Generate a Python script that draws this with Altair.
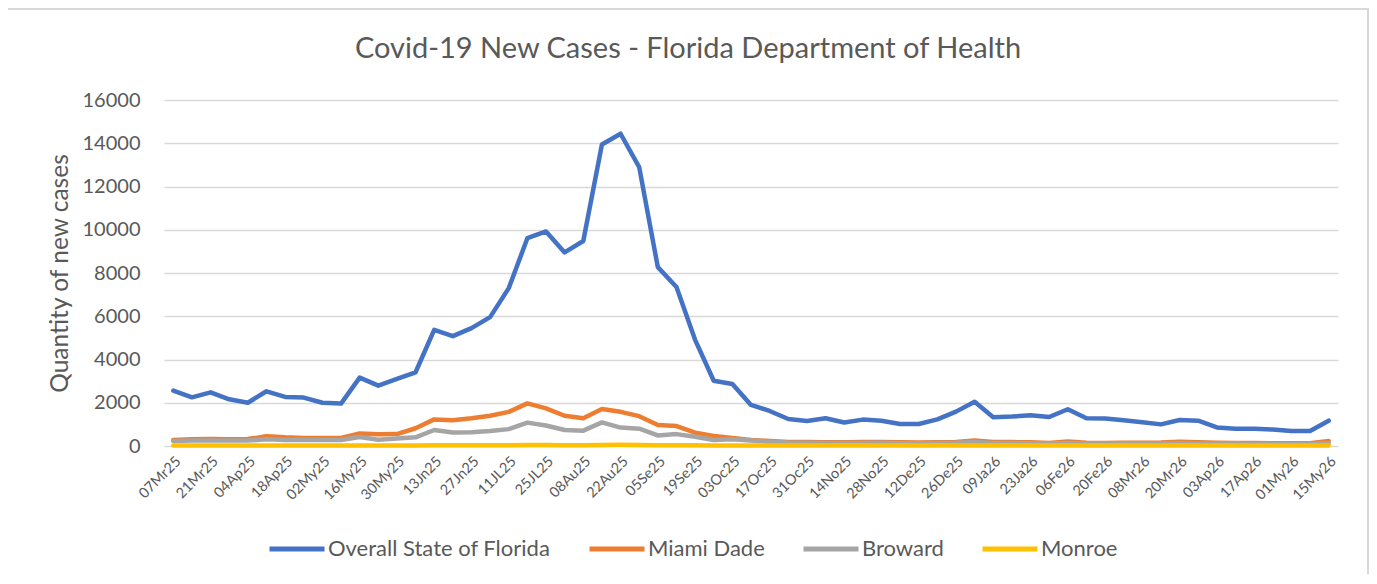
import altair as alt
import pandas as pd

weeks = ["07Mr25", "14Mr25", "21Mr25", "28Mr25", "04Ap25", "11Ap25", "18Ap25", "25Ap25",
         "02My25", "09My25", "16My25", "23My25", "30My25", "06Jn25", "13Jn25", "20Jn25",
         "27Jn25", "04JL25", "11JL25", "18JL25", "25JL25", "01Au25", "08Au25", "15Au25",
         "22Au25", "29Au25", "05Se25", "12Se25", "19Se25", "26Se25", "03Oc25", "10Oc25",
         "17Oc25", "24Oc25", "31Oc25", "07No25", "14No25", "21No25", "28No25", "05De25",
         "12De25", "19De25", "26De25", "02Ja26", "09Ja26", "16Ja26", "23Ja26", "30Ja26",
         "06Fe26", "13Fe26", "20Fe26", "27Fe26", "08Mr26", "13Mr26", "20Mr26", "27Mr26",
         "03Ap26", "10Ap26", "17Ap26", "24Ap26", "01My26", "08My26", "15My26"]
tick_labels = weeks[::2]

overall = [2560, 2250, 2480, 2160, 2000, 2530, 2270, 2240, 2000, 1960,
           3160, 2790, 3100, 3410, 5370, 5080, 5450, 5960, 7300, 9610,
           9920, 8950, 9480, 13940, 14440, 12900, 8270, 7350, 4910, 3020,
           2870, 1900, 1620, 1250, 1160, 1280, 1090, 1220, 1170, 1020,
           1020, 1230, 1590, 2050, 1330, 1360, 1420, 1340, 1700, 1280,
           1270, 1190, 1100, 1000, 1200, 1170, 860, 800, 800, 760,
           690, 690, 1170]
miami_dade = [280, 310, 320, 310, 320, 450, 400, 370, 370, 370,
              580, 540, 550, 820, 1230, 1190, 1280, 1400, 1580, 1970,
              1740, 1400, 1280, 1710, 1580, 1380, 970, 920, 620, 460,
              370, 280, 230, 190, 180, 170, 170, 180, 190, 170,
              160, 170, 190, 260, 190, 180, 170, 140, 210, 150,
              140, 150, 150, 160, 200, 170, 150, 140, 140, 130,
              130, 130, 230]
broward = [230, 250, 250, 250, 250, 310, 280, 290, 280, 280,
           420, 290, 350, 400, 740, 620, 640, 690, 780, 1080,
           950, 740, 710, 1090, 850, 800, 490, 550, 430, 280,
           310, 250, 200, 160, 150, 140, 140, 140, 150, 130,
           130, 140, 150, 190, 140, 140, 130, 120, 140, 120,
           110, 120, 120, 120, 130, 120, 110, 110, 100, 100,
           100, 100, 130]
monroe = [20, 20, 20, 20, 20, 20, 20, 20, 20, 20,
          25, 20, 25, 25, 30, 30, 30, 35, 40, 45,
          45, 40, 40, 50, 55, 50, 40, 35, 30, 25,
          20, 20, 20, 20, 20, 20, 20, 20, 20, 20,
          20, 20, 20, 25, 20, 20, 20, 20, 20, 20,
          20, 20, 20, 20, 20, 20, 20, 20, 20, 20,
          20, 20, 25]

series_names = ["Overall State of Florida", "Miami Dade", "Broward", "Monroe"]
series_values = [overall, miami_dade, broward, monroe]
series_colors = ["#4472C4", "#ED7D31", "#A5A5A5", "#FFC000"]
title_text = "Covid-19 New Cases - Florida Department of Health"
y_ticks = [0, 2000, 4000, 6000, 8000, 10000, 12000, 14000, 16000]

rows = []
for si, (name, vals) in enumerate(zip(series_names, series_values)):
    for w, v in zip(weeks, vals):
        rows.append({"week": w, "series": name, "cases": v, "order": si})
df = pd.DataFrame(rows)

FONT = "Lato"
GREY_TEXT = "#595959"

lines = alt.Chart(df).mark_line(strokeWidth=4.5, strokeCap="round", strokeJoin="round").encode(
    x=alt.X("week:O", sort=weeks, scale=alt.Scale(type="point", padding=0.5),
            axis=alt.Axis(values=tick_labels, labelAngle=-45, labelFont=FONT, labelFontSize=14.5,
                          labelColor=GREY_TEXT, domain=False, ticks=False, grid=False,
                          labelPadding=8, title=None)),
    y=alt.Y("cases:Q", scale=alt.Scale(domain=[0, 16000], nice=False),
            axis=alt.Axis(values=y_ticks, format="d", grid=True, gridColor="#d9d9d9", gridWidth=1.5,
                          domain=False, ticks=False, labelFont=FONT, labelFontSize=20,
                          labelColor=GREY_TEXT, labelPadding=24,
                          title="Quantity of new cases", titleFont=FONT, titleFontSize=24.5,
                          titleFontWeight="normal", titleColor=GREY_TEXT,
                          titleX=-97, titleY=173, titleAngle=-90, titleAlign="center",
                          titleBaseline="alphabetic")),
    color=alt.Color("series:N", sort=series_names,
                    scale=alt.Scale(domain=series_names, range=series_colors),
                    legend=alt.Legend(orient="none", legendX=103, legendY=419,
                                      direction="horizontal", title=None,
                                      symbolType="stroke", symbolSize=3025,
                                      symbolStrokeWidth=5, labelFont=FONT,
                                      labelFontSize=22, labelColor=GREY_TEXT,
                                      labelLimit=0, columnPadding=28, labelOffset=1)),
    order=alt.Order("order:Q"),
)

title = alt.Chart(alt.Data(values=[{"t": title_text}])).mark_text(
    font=FONT, fontSize=29, color=GREY_TEXT, align="center", baseline="alphabetic"
).encode(text="t:N", x=alt.value(524), y=alt.value(-42))

border = alt.Chart(alt.Data(values=[{"a": 1}])).mark_rect(
    fill="transparent", stroke="#d9d9d9", strokeWidth=2, clip=False
).encode(x=alt.value(-157), x2=alt.value(1204), y=alt.value(-91), y2=alt.value(600))

chart = alt.layer(border, lines, title).properties(
    width=1174, height=346,
    autosize=alt.AutoSizeParams(type="none"),
    padding={"left": 156, "top": 92, "right": 31, "bottom": 128},
    background="white",
).configure_view(stroke=None)

chart.save("out.html", embed_options={"renderer": "svg", "actions": False})
